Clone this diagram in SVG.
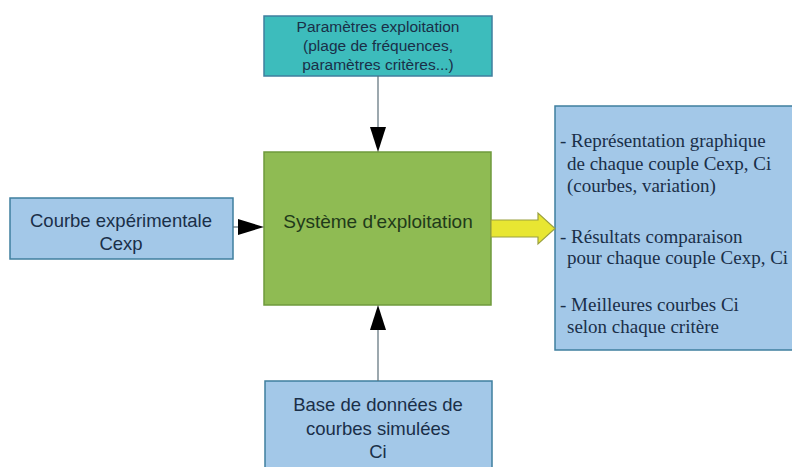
<svg xmlns="http://www.w3.org/2000/svg" width="792" height="467" viewBox="0 0 792 467">
<style>
.box{stroke:#3f7f9f;stroke-width:1.5}
.blue{fill:#a3c8e8}
.teal{fill:#3dbcbc}
.green{fill:#8fbb53;stroke:#6f9a3c;stroke-width:1.5}
.sans{font-family:"Liberation Sans",Arial,sans-serif;font-size:18.5px;fill:#1a2f48;text-anchor:middle}
.small{font-size:15.5px}
.big{font-size:19px;fill:#1f3a1a}
.serif{font-family:"Liberation Serif","Times New Roman",serif;font-size:19px;fill:#1a2f48}
.line{stroke:#5b6e78;stroke-width:1.2;fill:none}
</style>
<rect width="792" height="467" fill="#ffffff"/>
<g id="parametres">
<rect class="box teal" x="264" y="16" width="228" height="60"/>
<text class="sans small" x="378" y="32">Paramètres exploitation</text>
<text class="sans small" x="378" y="51">(plage de fréquences,</text>
<text class="sans small" x="378" y="70">paramètres critères...)</text>
</g>
<g id="courbe">
<rect class="box blue" x="10" y="198" width="223" height="61"/>
<text class="sans" x="121" y="227">Courbe expérimentale</text>
<text class="sans" x="121" y="250">Cexp</text>
</g>
<g id="systeme">
<rect class="green" x="264" y="152" width="227" height="153"/>
<text class="sans big" x="378" y="228">Système d'exploitation</text>
</g>
<g id="base">
<rect class="box blue" x="265" y="381" width="227" height="95"/>
<text class="sans" x="378" y="411">Base de données de</text>
<text class="sans" x="378" y="435">courbes simulées</text>
<text class="sans" x="378" y="458">Ci</text>
</g>
<g id="resultats">
<rect class="box blue" x="555" y="106" width="245" height="244"/>
<text class="serif" x="560" y="147">- Représentation graphique</text>
<text class="serif" x="567" y="170">de chaque couple Cexp, Ci</text>
<text class="serif" x="567" y="192">(courbes, variation)</text>
<text class="serif" x="560" y="243">- Résultats comparaison</text>
<text class="serif" x="567" y="264">pour chaque couple Cexp, Ci</text>
<text class="serif" x="560" y="311">- Meilleures courbes Ci</text>
<text class="serif" x="567" y="333">selon chaque critère</text>
</g>
<g id="connectors">
<line class="line" x1="378" y1="76" x2="378" y2="130"/>
<polygon points="370,127 386,127 378,152" fill="#000"/>
<line class="line" x1="233" y1="227" x2="240" y2="227"/>
<polygon points="238,219 238,235 264,227" fill="#000"/>
<line class="line" x1="378" y1="381" x2="378" y2="328"/>
<polygon points="370,330 386,330 378,305" fill="#000"/>
<polygon points="491,220 538,220 538,213 555,228.5 538,244 538,237 491,237" fill="#e8e632" stroke="#9aa040" stroke-width="1.2"/>
</g>
</svg>
